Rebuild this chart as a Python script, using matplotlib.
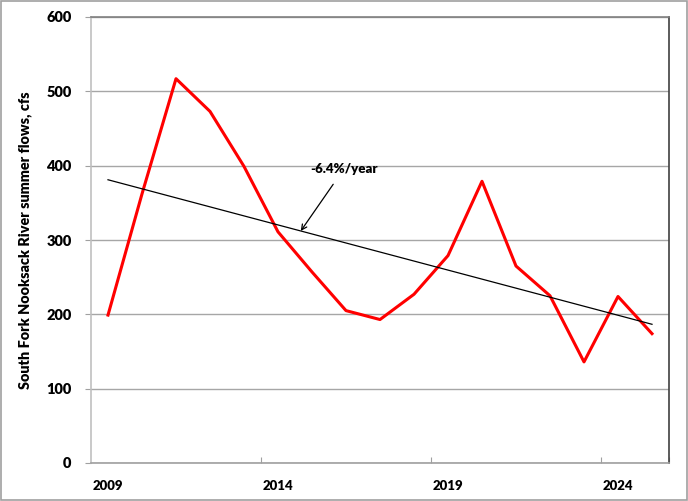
import matplotlib
matplotlib.use("Agg")
import matplotlib.pyplot as plt
import numpy as np
from matplotlib.patches import Rectangle

years = list(range(2009, 2026))
flows = [199, 362, 517, 473, 399, 311, 257, 205, 193, 227, 279, 379, 265, 225, 136, 224, 174]
tick_labels = ["2009", "2014", "2019", "2024"]
trend_label = "-6.4%/year"
ylabel = "South Fork Nooksack River summer flows, cfs"

plt.rcParams['font.family'] = ['Lato', 'DejaVu Sans']

fig = plt.figure(figsize=(6.88, 5.01), dpi=100)
fig.patches.append(Rectangle((0.002, 0.002), 0.996, 0.996, transform=fig.transFigure,
                             fill=False, edgecolor="#a0a0a0", linewidth=1.2))
ax = fig.add_axes([91/688, 38/501, 578/688, 446/501])

idx = np.arange(len(years))
ax.plot(idx, flows, color="#ff0000", linewidth=2.2, zorder=3)
coef = np.polyfit(idx, flows, 1)
ax.plot(idx, np.polyval(coef, idx), color="black", linewidth=0.9, zorder=4)

ax.set_xlim(-0.5, len(years) - 0.5)
ax.set_ylim(0, 600)
ax.set_yticks(range(0, 601, 100))
ax.yaxis.grid(True, color="#a6a6a6", linewidth=1.0)
ax.set_axisbelow(True)

lab_pos = [years.index(int(t)) for t in tick_labels]
ax.set_xticks([p - 0.5 for p in lab_pos[1:]] + [len(years) - 0.5])
ax.set_xticklabels([])
ax.tick_params(axis="x", which="major", direction="in", length=4, color="#a0a0a0")
ax.set_xticks(lab_pos, minor=True)
ax.set_xticklabels(tick_labels, minor=True, fontweight="heavy", fontsize=9.5)
ax.tick_params(axis="x", which="minor", length=0, pad=12)
ax.tick_params(axis="y", direction="out", length=4, color="#a0a0a0", labelsize=10.5, pad=10)
for t in ax.get_yticklabels():
    t.set_fontweight("heavy")

ax.spines["left"].set_color("#c0c0c0")
ax.spines["bottom"].set_color("#a0a0a0")
ax.spines["top"].set_color("#808080")
ax.spines["right"].set_color("#404040")
for s in ax.spines.values():
    s.set_linewidth(1.2)

ax.set_ylabel(ylabel, fontsize=10.4, fontweight="heavy", labelpad=10)

ax.annotate(trend_label, xy=(5.67, np.polyval(coef, 5.67)), xytext=(5.95, 396),
            fontsize=9.5, fontweight="heavy", ha="left", va="center",
            arrowprops=dict(arrowstyle="->", color="black", lw=0.9,
                            shrinkA=6, shrinkB=0))

fig.savefig("out.png", dpi=100)
